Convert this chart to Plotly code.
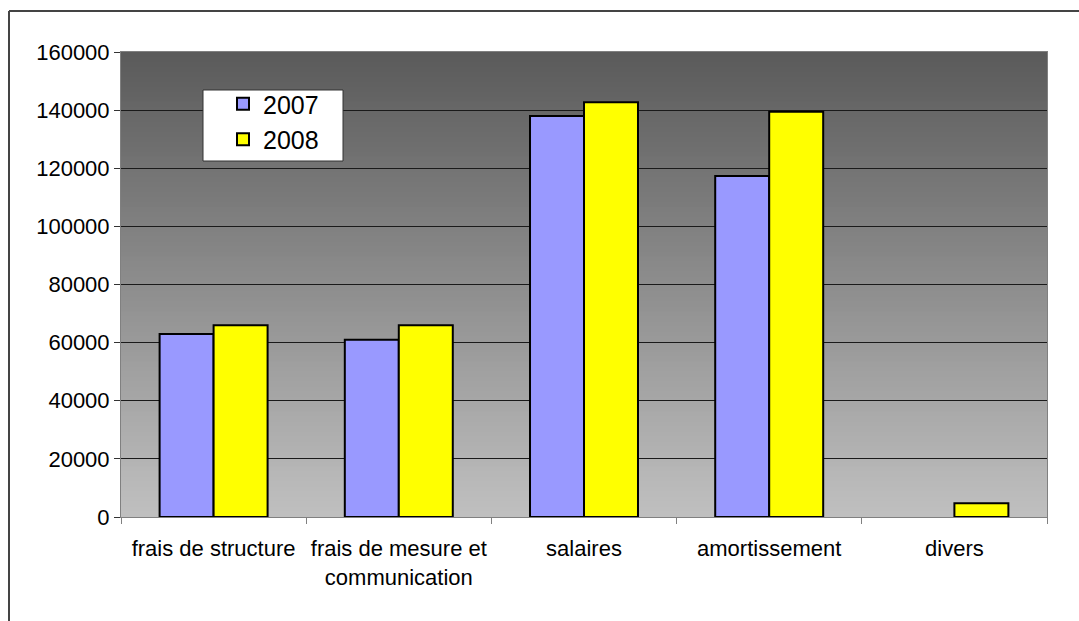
import plotly.graph_objects as go

categories = ["frais de structure", "frais de mesure et<br>communication", "salaires", "amortissement", "divers"]
values_2007 = [63000, 61000, 138000, 117300, 0]
values_2008 = [66000, 66000, 142700, 139400, 4700]
y_ticks = [0, 20000, 40000, 60000, 80000, 100000, 120000, 140000, 160000]

FONT = "Liberation Sans, Arial, sans-serif"

fig = go.Figure()
fig.add_trace(go.Bar(name="2007", x=categories, y=values_2007,
                     marker=dict(color="#9999ff",
                                 line=dict(color="black", width=[2 if v else 0 for v in values_2007]))))
fig.add_trace(go.Bar(name="2008", x=categories, y=values_2008,
                     marker=dict(color="#ffff00",
                                 line=dict(color="black", width=[2 if v else 0 for v in values_2008]))))

# gradient background of plot area (dark top -> light bottom)
shapes = []
n = 93
top, bot = 90, 192
for i in range(n):
    t = (i + 0.5) / n
    c = round(top + (bot - top) * t)
    shapes.append(dict(type="rect", xref="paper", yref="paper", x0=0, x1=1,
                       y0=1 - (i + 1) / n, y1=1 - i / n + 0.001,
                       fillcolor=f"rgb({c},{c},{c})", line=dict(width=0), layer="below"))

# legend box
L, T, B = 121, 52, 517
W = 1047 - 121
H = B - T
def px(x):
    return (x - L) / W
def py(y):
    return (B - y) / H

shapes.append(dict(type="rect", xref="paper", yref="paper",
                   x0=px(203), x1=px(343), y0=py(161), y1=py(90),
                   fillcolor="white", line=dict(color="#333333", width=1), layer="above"))
# outer chart border (left and top visible)
shapes.append(dict(type="line", xref="paper", yref="paper",
                   x0=px(9), x1=px(9), y0=py(11), y1=py(640),
                   line=dict(color="#444444", width=2)))
shapes.append(dict(type="line", xref="paper", yref="paper",
                   x0=px(9), x1=px(1100), y0=py(11), y1=py(11),
                   line=dict(color="#444444", width=2)))

fig.update_layout(
    width=1079, height=621,
    margin=dict(l=121, r=32, t=52, b=104),
    paper_bgcolor="white", plot_bgcolor="rgba(0,0,0,0)",
    barmode="group", bargap=0.417, bargroupgap=0,
    font=dict(family=FONT, size=22, color="black"),
    shapes=shapes,
    legend=dict(x=px(223), y=py(81), xanchor="left", yanchor="top",
                bgcolor="rgba(0,0,0,0)", borderwidth=0,
                font=dict(family=FONT, size=25, color="black")),
    showlegend=True,
)
fig.update_xaxes(showline=True, linecolor="#808080", linewidth=1, mirror=True,
                 ticks="outside", tickson="boundaries", ticklen=6, tickcolor="#808080",
                 ticklabelstandoff=12,
                 showgrid=False, tickfont=dict(family=FONT, size=22, color="black"))
fig.update_yaxes(range=[0, 160000], tickvals=y_ticks, tickformat="d",
                 showline=True, linecolor="#808080", linewidth=1, mirror=True,
                 ticks="outside", ticklen=6, tickcolor="#333333",
                 showgrid=True, gridcolor="#1a1a1a", gridwidth=1, zeroline=False,
                 tickfont=dict(family=FONT, size=22, color="black"))

fig.write_html("out.html")
